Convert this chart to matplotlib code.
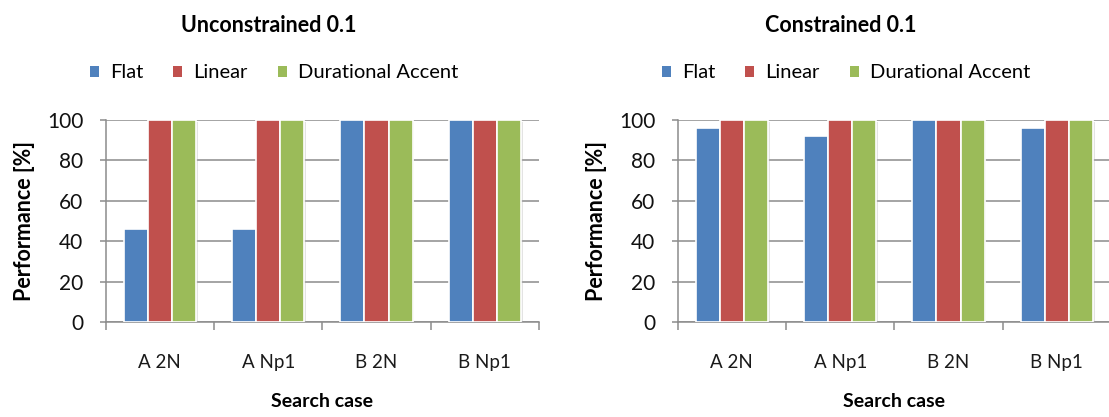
import matplotlib
matplotlib.use("Agg")
import matplotlib.pyplot as plt
import matplotlib.patheffects as pe
from matplotlib.patches import Patch
import numpy as np

plt.rcParams['font.family'] = ['Lato', 'DejaVu Sans']

categories = ["A 2N", "A Np1", "B 2N", "B Np1"]
series_names = ["Flat", "Linear", "Durational Accent"]
colors = ["#4F81BD", "#C0504D", "#9BBB59"]

unconstrained_flat = [46, 46, 100, 100]
unconstrained_linear = [100, 100, 100, 100]
unconstrained_accent = [100, 100, 100, 100]

constrained_flat = [96, 92, 100, 96]
constrained_linear = [100, 100, 100, 100]
constrained_accent = [100, 100, 100, 100]

yticks = [0, 20, 40, 60, 80, 100]

W, H = 1109, 417
fig = plt.figure(figsize=(W / 100, H / 100), dpi=100)
GRID = "#8C8C8C"
shadow = [pe.SimplePatchShadow(offset=(1.2, -1.2), shadow_rgbFace="#b0b0b0",
                               alpha=0.35), pe.Normal()]


def px(x):
    return x / W


def py(y):
    return 1 - y / H


def panel(left_px, title, title_cx, legend_cx, data):
    ax = fig.add_axes([px(left_px), py(322.3), px(433.3), (322.3 - 120) / H])
    n = len(data)
    bw = 1 / 4.5
    x = np.arange(len(categories)) + 0.5
    for i, (vals, c) in enumerate(zip(data, colors)):
        bars = ax.bar(x + (i - (n - 1) / 2) * bw, vals, width=bw, color=c,
                      edgecolor="white", linewidth=1.2, zorder=3)
        for b in bars:
            b.set_path_effects(shadow)
    ax.set_xlim(0, len(categories))
    ax.set_ylim(0, 100)
    ax.set_yticks(yticks)
    ax.yaxis.grid(True, color=GRID, linewidth=1.1, zorder=0)
    ax.set_axisbelow(True)
    ax.set_xticks(np.arange(len(categories) + 1))
    ax.set_xticklabels([])
    ax.set_xticks(x, minor=True)
    ax.set_xticklabels(categories, minor=True, fontsize=13.5, color="#1a1a1a")
    ax.tick_params(axis="x", which="major", length=6, width=1.1, color=GRID,
                   direction="out")
    ax.tick_params(axis="x", which="minor", length=0, pad=23)
    ax.tick_params(axis="y", length=4.5, width=1.1, color=GRID,
                   labelsize=15, pad=11.5, labelcolor="#111111")
    for s in ("top", "right"):
        ax.spines[s].set_visible(False)
    for s in ("left", "bottom"):
        ax.spines[s].set_color(GRID)
        ax.spines[s].set_linewidth(1.1)
    ax.set_ylabel("Performance [%]", fontsize=15.5, fontweight="bold",
                  labelpad=9)
    ax.set_xlabel("Search case", fontsize=14, fontweight="bold",
                  labelpad=16)
    fig.text(px(title_cx), py(25), title, fontsize=15.5, fontweight="bold",
             ha="center", va="center")
    handles = [Patch(facecolor=c, edgecolor="none") for c in colors]
    fig.legend(handles, series_names, loc="center", ncol=3,
               bbox_to_anchor=(px(legend_cx), py(73)), frameon=False,
               fontsize=14.5, handlelength=0.45, handleheight=0.45,
               handletextpad=0.55, columnspacing=1.5)
    return ax


panel(105.7, "Unconstrained 0.1", 269, 274,
      [unconstrained_flat, unconstrained_linear, unconstrained_accent])
panel(677.7, "Constrained 0.1", 841, 846,
      [constrained_flat, constrained_linear, constrained_accent])

fig.savefig("out.png", dpi=100)
